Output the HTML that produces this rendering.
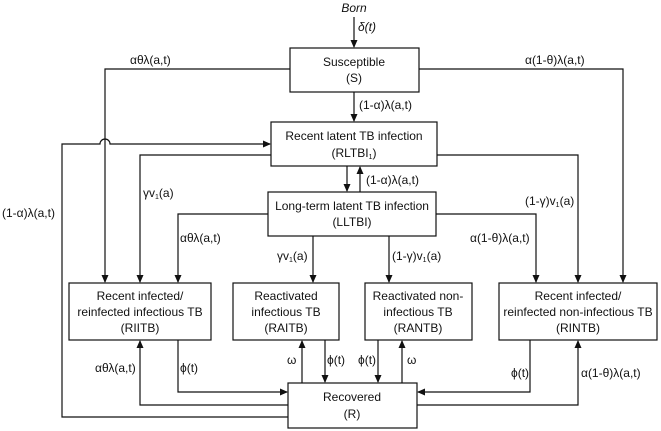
<!DOCTYPE html>
<html><head><meta charset="utf-8"><style>
body{margin:0;background:#fff}
svg{display:block}
text{font-family:"Liberation Sans",Arial,sans-serif;font-size:12px;fill:#111}
.c{text-anchor:middle}
</style></head><body>
<svg width="661" height="431" viewBox="0 0 661 431" xmlns="http://www.w3.org/2000/svg">
<defs><marker id="a" markerWidth="8" markerHeight="8" refX="7" refY="4" orient="auto" markerUnits="userSpaceOnUse"><path d="M0,0.5 L8,4 L0,7.5 z" fill="#111"/></marker></defs>
<g stroke="#111" stroke-width="1.2" fill="none">
<rect x="290" y="48" width="129" height="44"/>
<rect x="271" y="122" width="166" height="44"/>
<rect x="268" y="192" width="168" height="44"/>
<rect x="69" y="283" width="142" height="57"/>
<rect x="233" y="283" width="106" height="57"/>
<rect x="365" y="283" width="107" height="57"/>
<rect x="499" y="283" width="158" height="57"/>
<rect x="288" y="383" width="129" height="45"/>
<line x1="354" y1="17" x2="354" y2="47" marker-end="url(#a)"/>
<line x1="354" y1="92" x2="354" y2="121" marker-end="url(#a)"/>
<path d="M290,69 H105 V282" marker-end="url(#a)"/>
<path d="M419,69 H623 V282" marker-end="url(#a)"/>
<path d="M288,417 H62 V144 H100 A5,5 0 0 1 110,144 H270" marker-end="url(#a)"/>
<path d="M271,155 H140 V282" marker-end="url(#a)"/>
<path d="M437,155 H578 V282" marker-end="url(#a)"/>
<line x1="347" y1="166" x2="347" y2="191" marker-end="url(#a)"/>
<line x1="360" y1="192" x2="360" y2="167" marker-end="url(#a)"/>
<path d="M268,214 H178 V282" marker-end="url(#a)"/>
<path d="M436,214 H536 V282" marker-end="url(#a)"/>
<line x1="313" y1="236" x2="313" y2="282" marker-end="url(#a)"/>
<line x1="389" y1="236" x2="389" y2="282" marker-end="url(#a)"/>
<line x1="302" y1="383" x2="302" y2="341" marker-end="url(#a)"/>
<line x1="325" y1="340" x2="325" y2="382" marker-end="url(#a)"/>
<line x1="378" y1="340" x2="378" y2="382" marker-end="url(#a)"/>
<line x1="402" y1="383" x2="402" y2="341" marker-end="url(#a)"/>
<path d="M178,340 V392 H287" marker-end="url(#a)"/>
<path d="M288,405 H140 V341" marker-end="url(#a)"/>
<path d="M530,340 V392 H418" marker-end="url(#a)"/>
<path d="M417,405 H578 V341" marker-end="url(#a)"/>
</g>
<text x="354" y="12" class="c" font-style="italic">Born</text>
<text x="358" y="31" font-style="italic">δ(t)</text>
<text x="354" y="66" class="c">Susceptible</text>
<text x="354" y="82" class="c">(S)</text>
<text x="354" y="140" class="c">Recent latent TB infection</text>
<text x="354" y="157" class="c">(RLTBI<tspan font-size="7" dy="2">1</tspan><tspan dy="-2">)</tspan></text>
<text x="352" y="210" class="c">Long-term latent TB infection</text>
<text x="352" y="226" class="c">(LLTBI)</text>
<text x="140" y="300" class="c">Recent infected/</text>
<text x="140" y="316" class="c">reinfected infectious TB</text>
<text x="140" y="332" class="c">(RIITB)</text>
<text x="286" y="300" class="c">Reactivated</text>
<text x="286" y="316" class="c">infectious TB</text>
<text x="286" y="332" class="c">(RAITB)</text>
<text x="418" y="300" class="c">Reactivated non-</text>
<text x="418" y="316" class="c">infectious TB</text>
<text x="418" y="332" class="c">(RANTB)</text>
<text x="578" y="300" class="c">Recent infected/</text>
<text x="578" y="316" class="c">reinfected non-infectious TB</text>
<text x="578" y="332" class="c">(RINTB)</text>
<text x="352" y="401" class="c">Recovered</text>
<text x="352" y="418" class="c">(R)</text>
<text x="130" y="64">αθλ(a,t)</text>
<text x="525" y="64">α(1-θ)λ(a,t)</text>
<text x="359" y="109">(1-α)λ(a,t)</text>
<text x="366" y="184">(1-α)λ(a,t)</text>
<text x="143" y="197">γv<tspan font-size="7" dy="2">1</tspan><tspan dy="-2">(a)</tspan></text>
<text x="525" y="205">(1-γ)v<tspan font-size="7" dy="2">1</tspan><tspan dy="-2">(a)</tspan></text>
<text x="2" y="217">(1-α)λ(a,t)</text>
<text x="180" y="242">αθλ(a,t)</text>
<text x="470" y="242">α(1-θ)λ(a,t)</text>
<text x="277" y="260">γv<tspan font-size="7" dy="2">1</tspan><tspan dy="-2">(a)</tspan></text>
<text x="392" y="260">(1-γ)v<tspan font-size="7" dy="2">1</tspan><tspan dy="-2">(a)</tspan></text>
<text x="95" y="372">αθλ(a,t)</text>
<text x="180" y="372">ϕ(t)</text>
<text x="287" y="364">ω</text>
<text x="327" y="364">ϕ(t)</text>
<text x="358" y="364">ϕ(t)</text>
<text x="407" y="364">ω</text>
<text x="511" y="377">ϕ(t)</text>
<text x="581" y="377">α(1-θ)λ(a,t)</text>
</svg>
</body></html>
